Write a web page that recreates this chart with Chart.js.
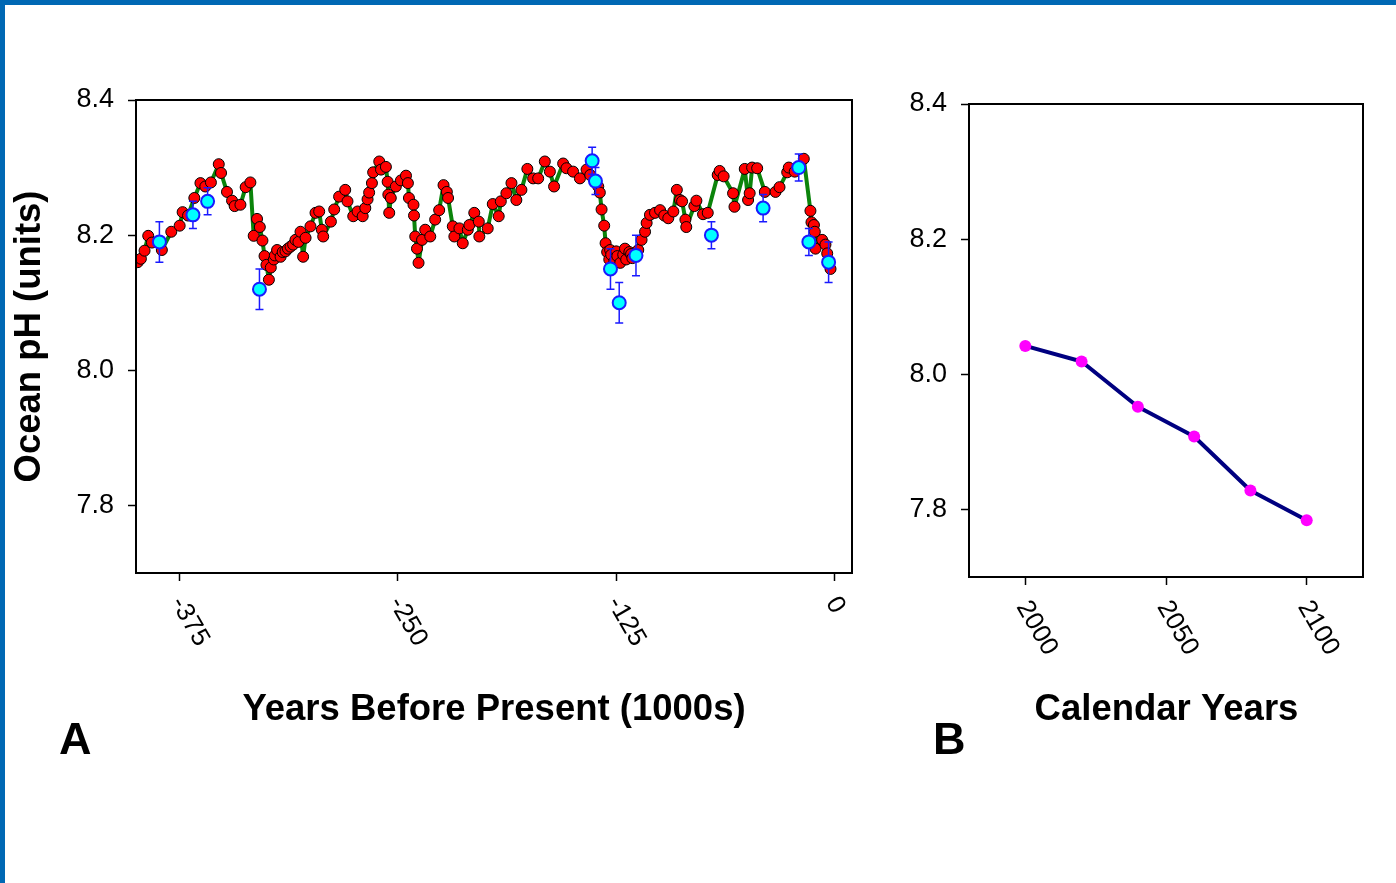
<!DOCTYPE html>
<html>
<head>
<meta charset="utf-8">
<title>Ocean pH</title>
<script src="https://cdn.jsdelivr.net/npm/chart.js@4.4.1/dist/chart.umd.min.js"></script>
<style>
  body { margin: 0; background: #fff; }
  #wrap { position: relative; width: 1396px; height: 883px; overflow: hidden; background: #fff; }
  canvas { position: absolute; top: 0; }
  #chartA { left: 0; }
  #chartB { left: 900px; }
  .edge { position: absolute; background: #0068b4; }
</style>
</head>
<body>
<div id="wrap">
  <canvas id="chartA" width="900" height="883" style="width:900px;height:883px"></canvas>
  <canvas id="chartB" width="496" height="883" style="width:496px;height:883px"></canvas>
  <div class="edge" style="left:0;top:0;width:1396px;height:5px"></div>
  <div class="edge" style="left:0;top:0;width:5px;height:883px"></div>
</div>
<script>
const FONT = "'Liberation Sans', Arial, Helvetica, sans-serif";
Chart.defaults.font.family = FONT;
Chart.defaults.color = '#000';

// Panel A - reconstructed pH, thousands of years before present
const ageA = [
  -399.0, -397.2, -395.1, -393.0, -390.9, -385.2, -379.8, -375.0, -373.3, -370.2,
  -366.6, -363.1, -360.3, -357.1, -352.6, -351.3, -347.9, -345.0, -343.5, -340.2,
  -337.2, -334.5, -332.6, -330.7, -329.1, -327.6, -326.4, -325.3, -323.9, -322.8,
  -321.1, -320.5, -319.2, -317.2, -316.0, -314.4, -313.0, -311.5, -310.0, -308.7,
  -307.0, -305.8, -304.3, -302.9, -300.1, -297.2, -295.1, -293.6, -292.8, -288.4,
  -286.5, -283.7, -280.2, -278.9, -275.6, -273.1, -270.2, -268.7, -267.4, -266.5,
  -264.9, -264.2, -260.7, -259.7, -256.9, -255.9, -255.5, -255.0, -254.1, -251.2,
  -248.3, -245.4, -244.3, -243.7, -241.1, -240.8, -240.1, -239.1, -238.2, -236.2,
  -234.4, -231.5, -228.7, -226.4, -223.9, -222.0, -221.3, -218.6, -217.7, -214.8,
  -212.9, -210.0, -209.1, -206.3, -203.7, -203.4, -198.6, -195.7, -192.3, -191.1,
  -187.9, -185.0, -182.2, -179.3, -175.9, -172.6, -169.7, -165.9, -163.0, -160.6,
  -155.4, -153.5, -149.7, -145.8, -142.0, -139.9, -137.0, -135.3, -134.4, -133.4,
  -131.9, -131.1, -130.2, -129.0, -128.5, -127.9, -126.1, -125.0, -124.4, -122.7,
  -121.0, -120.0, -119.3, -117.5, -116.5, -115.8, -114.0, -112.4, -110.5, -108.5,
  -107.6, -105.7, -102.8, -99.9, -97.5, -95.2, -92.3, -90.3, -88.5, -87.3,
  -85.4, -84.9, -80.3, -79.1, -75.3, -72.6, -66.9, -65.8, -63.5, -58.1,
  -57.3, -51.4, -49.5, -48.6, -47.2, -44.3, -39.9, -33.8, -31.5, -27.1,
  -26.2, -22.8, -17.6, -13.8, -13.2, -11.8, -11.3, -10.9, -7.1, -5.2,
  -4.2, -2.3
];
const phA = [
  8.160, 8.165, 8.177, 8.199, 8.189, 8.178, 8.205, 8.214, 8.234, 8.229,
  8.255, 8.277, 8.272, 8.278, 8.305, 8.292, 8.264, 8.251, 8.243, 8.245,
  8.271, 8.278, 8.199, 8.224, 8.212, 8.192, 8.169, 8.156, 8.134, 8.152,
  8.164, 8.170, 8.178, 8.168, 8.175, 8.176, 8.180, 8.183, 8.186, 8.193,
  8.190, 8.205, 8.168, 8.196, 8.213, 8.233, 8.235, 8.208, 8.198, 8.220,
  8.238, 8.257, 8.267, 8.250, 8.228, 8.235, 8.228, 8.240, 8.253, 8.263,
  8.277, 8.293, 8.309, 8.297, 8.301, 8.279, 8.260, 8.233, 8.255, 8.272,
  8.281, 8.288, 8.277, 8.255, 8.245, 8.229, 8.198, 8.180, 8.159, 8.193,
  8.208, 8.198, 8.223, 8.237, 8.274, 8.264, 8.255, 8.213, 8.198, 8.210,
  8.188, 8.208, 8.215, 8.233, 8.220, 8.198, 8.210, 8.246, 8.228, 8.250,
  8.262, 8.277, 8.252, 8.267, 8.298, 8.284, 8.284, 8.309, 8.294, 8.272,
  8.306, 8.299, 8.294, 8.284, 8.297, 8.289, 8.279, 8.272, 8.263, 8.238,
  8.214, 8.188, 8.175, 8.164, 8.178, 8.171, 8.161, 8.176, 8.169, 8.159,
  8.171, 8.180, 8.164, 8.175, 8.172, 8.166, 8.170, 8.178, 8.193, 8.205,
  8.218, 8.230, 8.233, 8.237, 8.229, 8.225, 8.235, 8.267, 8.252, 8.250,
  8.223, 8.212, 8.243, 8.251, 8.231, 8.233, 8.289, 8.295, 8.287, 8.262,
  8.242, 8.298, 8.252, 8.262, 8.300, 8.299, 8.264, 8.264, 8.271, 8.293,
  8.300, 8.294, 8.313, 8.236, 8.219, 8.215, 8.205, 8.180, 8.193, 8.186,
  8.173, 8.150
];

// cyan points with error bars
const ageCore = [-386.6, -367.4, -359.0, -329.3, -138.8, -136.9, -128.3, -123.3, -113.7, -70.5, -40.9, -20.5, -14.7, -3.4];
const phCore  = [8.19, 8.23, 8.25, 8.12, 8.31, 8.28, 8.15, 8.10, 8.17, 8.20, 8.24, 8.30, 8.19, 8.16];
const errCore = [0.03, 0.02, 0.02, 0.03, 0.02, 0.02, 0.03, 0.03, 0.03, 0.02, 0.02, 0.02, 0.02, 0.03];

const xTicksA = [-375, -250, -125, 0];
const yTicks = [7.8, 8.0, 8.2, 8.4];

// Panel B - projected pH
const yearsB = [2000, 2020, 2040, 2060, 2080, 2100];
const phB = [8.042, 8.019, 7.952, 7.908, 7.828, 7.784];
const xTicksB = [2000, 2050, 2100];

const toPoints = (xs, ys) => xs.map((x, i) => ({ x: x, y: ys[i] }));

function yAxis(width) {
  return {
    min: 7.7, max: 8.4,
    afterBuildTicks: s => { s.ticks = yTicks.map(v => ({ value: v })); },
    afterFit: s => { s.width = width; },
    ticks: { font: { size: 27 }, padding: 14, callback: v => v.toFixed(1) },
    grid: { drawOnChartArea: false, tickLength: 8, tickColor: '#000', tickWidth: 1.5 },
    border: { color: '#000', width: 2 }
  };
}

function xAxis(min, max, ticks, height) {
  return {
    type: 'linear', min: min, max: max,
    afterBuildTicks: s => { s.ticks = ticks.map(v => ({ value: v })); },
    afterFit: s => { s.height = height; },
    ticks: { display: false },
    grid: { drawOnChartArea: false, tickLength: 8, tickColor: '#000', tickWidth: 1.5 },
    border: { color: '#000', width: 2 }
  };
}

// frame, rotated tick labels, titles and panel letter
function decor(o) {
  return {
    id: 'decor',
    afterDraw(chart) {
      const { ctx, chartArea: a } = chart;
      const x = chart.scales.x;
      ctx.save();
      ctx.strokeStyle = '#000';
      ctx.lineWidth = 2;
      ctx.strokeRect(a.left, a.top, a.right - a.left, a.bottom - a.top);

      ctx.fillStyle = '#000';
      ctx.font = '26px ' + FONT;
      ctx.textAlign = 'left';
      ctx.textBaseline = 'middle';
      o.xTicks.forEach(v => {
        ctx.save();
        ctx.translate(x.getPixelForValue(v) - 3, a.bottom + 26);
        ctx.rotate(Math.PI / 3);
        ctx.fillText(String(v), 0, 0);
        ctx.restore();
      });

      ctx.font = 'bold 36.5px ' + FONT;
      ctx.textAlign = 'center';
      ctx.fillText(o.xTitle, o.xTitleX, 710);
      if (o.yTitle) {
        ctx.save();
        ctx.translate(30, (a.top + a.bottom) / 2);
        ctx.rotate(-Math.PI / 2);
        ctx.fillText(o.yTitle, 0, 0);
        ctx.restore();
      }
      ctx.font = 'bold 45px ' + FONT;
      ctx.textAlign = 'left';
      ctx.fillText(o.letter, o.letterX, 742);
      ctx.restore();
    }
  };
}

// error bars go between the red series and the cyan points
const errorBars = {
  id: 'errorBars',
  afterDatasetDraw(chart, args) {
    if (args.index !== 1) return;
    const { ctx, scales: { x, y } } = chart;
    ctx.save();
    ctx.strokeStyle = '#1a1aff';
    ctx.lineWidth = 1.5;
    ageCore.forEach((a, i) => {
      const px = x.getPixelForValue(a);
      const top = y.getPixelForValue(phCore[i] + errCore[i]);
      const bot = y.getPixelForValue(phCore[i] - errCore[i]);
      ctx.beginPath();
      ctx.moveTo(px, top); ctx.lineTo(px, bot);
      ctx.moveTo(px - 4, top); ctx.lineTo(px + 4, top);
      ctx.moveTo(px - 4, bot); ctx.lineTo(px + 4, bot);
      ctx.stroke();
    });
    ctx.restore();
  }
};

new Chart(document.getElementById('chartA'), {
  type: 'line',
  data: {
    datasets: [
      {
        data: toPoints(ageCore, phCore),
        showLine: false,
        pointRadius: 6.5,
        pointBackgroundColor: '#00ffff',
        pointBorderColor: '#1a1aff',
        pointBorderWidth: 2
      },
      {
        data: toPoints(ageA, phA),
        borderColor: '#0b840b',
        borderWidth: 4,
        borderJoinStyle: 'round',
        tension: 0,
        pointRadius: 5.5,
        pointBackgroundColor: '#ff0000',
        pointBorderColor: '#000',
        pointBorderWidth: 1
      }
    ]
  },
  options: {
    responsive: false,
    animation: false,
    events: [],
    layout: { padding: { left: 0, right: 48, top: 100, bottom: 0 } },
    plugins: { legend: { display: false }, tooltip: { enabled: false } },
    scales: { x: xAxis(-400, 10, xTicksA, 310), y: yAxis(136) }
  },
  plugins: [errorBars, decor({
    xTicks: xTicksA, xTitle: 'Years Before Present (1000s)', xTitleX: 494,
    yTitle: 'Ocean pH (units)', letter: 'A', letterX: 59
  })]
});

new Chart(document.getElementById('chartB'), {
  type: 'line',
  data: {
    datasets: [{
      data: toPoints(yearsB, phB),
      borderColor: '#000080',
      borderWidth: 4,
      borderJoinStyle: 'round',
      tension: 0,
      pointRadius: 6,
      pointBackgroundColor: '#ff00ff',
      pointBorderWidth: 0
    }]
  },
  options: {
    responsive: false,
    animation: false,
    events: [],
    layout: { padding: { left: 0, right: 33, top: 104, bottom: 0 } },
    plugins: { legend: { display: false }, tooltip: { enabled: false } },
    scales: { x: xAxis(1980, 2120, xTicksB, 306), y: yAxis(69) }
  },
  plugins: [decor({
    xTicks: xTicksB, xTitle: 'Calendar Years', xTitleX: 266.5,
    letter: 'B', letterX: 33
  })]
});
</script>
</body>
</html>
